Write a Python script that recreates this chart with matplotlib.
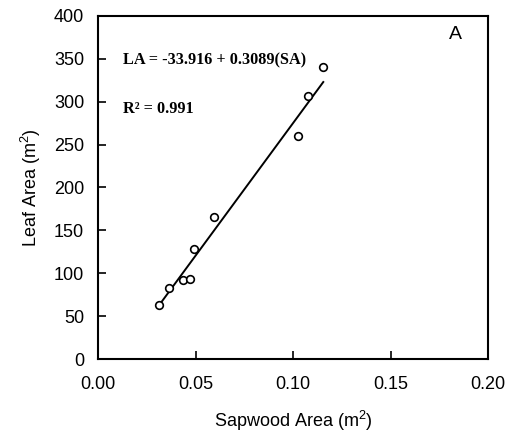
import numpy as np
import matplotlib
matplotlib.use('Agg')
import matplotlib.pyplot as plt

# sapwood area (m2) vs leaf area (m2)
sapwood = [0.0313, 0.0366, 0.0438, 0.0472, 0.0494, 0.0593, 0.1024, 0.1075, 0.1152]
leaf = [63, 83, 92, 93, 128, 165, 260, 307, 340]

# fitted line LA = -33.916 + 0.3089(SA), SA in cm2
intercept = -33.916
slope = 0.3089

xticks = [0.00, 0.05, 0.10, 0.15, 0.20]
yticks = [0, 50, 100, 150, 200, 250, 300, 350, 400]

plt.rcParams['font.family'] = ['Liberation Sans', 'DejaVu Sans']
plt.rcParams['mathtext.fontset'] = 'custom'
plt.rcParams['mathtext.rm'] = 'Liberation Sans'

fig = plt.figure(figsize=(5.11, 4.40), dpi=100)
ax = fig.add_axes([0.192, 0.184, 0.763, 0.78])

xfit = np.array([min(sapwood) - 0.0005, max(sapwood) + 0.0003])
yfit = intercept + slope * xfit * 10000
ax.plot(xfit, yfit, color='black', linewidth=1.4, zorder=2)
ax.plot(sapwood, leaf, 'o', markersize=5.5, markerfacecolor='white',
        markeredgecolor='black', markeredgewidth=1.2, zorder=3)

ax.set_xlim(0, 0.2)
ax.set_ylim(0, 400)
ax.set_xticks(xticks)
ax.set_yticks(yticks)
ax.set_xticklabels(['%.2f' % t for t in xticks])
ax.tick_params(direction='in', length=6, width=1.2, labelsize=13, pad=12,
               top=False, right=False)
ax.tick_params(axis='y', pad=10)
for s in ax.spines.values():
    s.set_linewidth(1.5)

ax.set_xlabel(r'Sapwood Area $\mathregular{(m^2)}$', fontsize=13, labelpad=12)
ax.set_ylabel(r'Leaf Area $\mathregular{(m^2)}$', fontsize=13, labelpad=8)

ax.text(0.065, 0.87, 'LA = -33.916 + 0.3089(SA)', transform=ax.transAxes,
        family='Liberation Serif', fontweight='bold', fontsize=11.7, va='center')
ax.text(0.065, 0.73, 'R² = 0.991', transform=ax.transAxes,
        family='Liberation Serif', fontweight='bold', fontsize=11.7, va='center')
ax.text(0.90, 0.945, 'A', transform=ax.transAxes, fontsize=14, va='center')

fig.savefig('out.png', dpi=100)
